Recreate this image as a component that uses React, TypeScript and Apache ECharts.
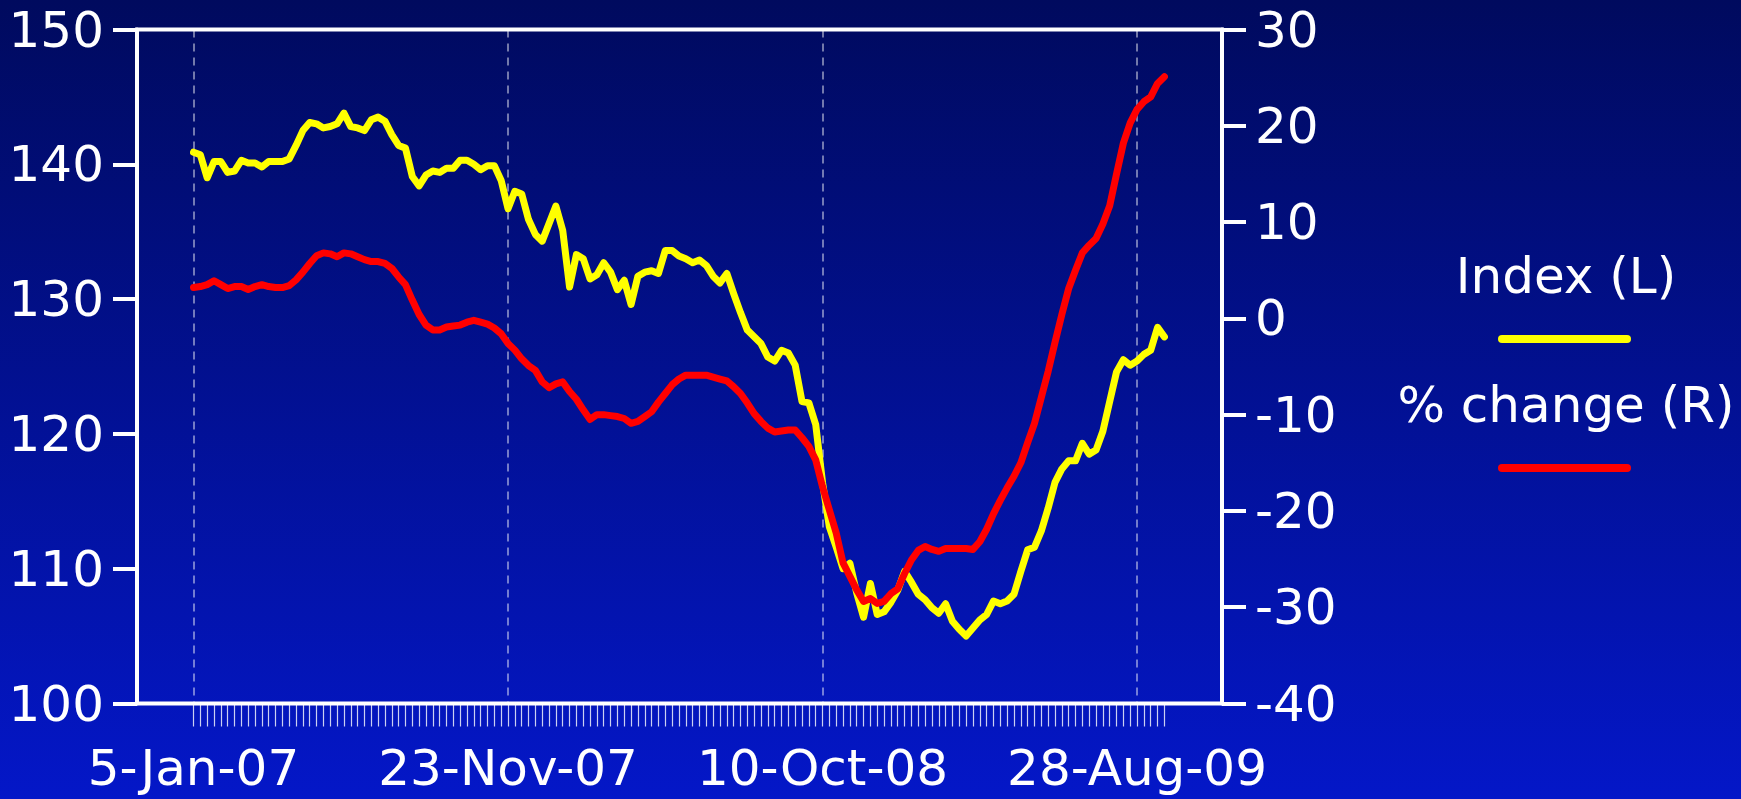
import React, { useEffect, useRef } from 'react';
import * as echarts from 'echarts';

// ---- data ----
const START_DATE = '2007-01-05';
const WEEK_COUNT = 143;
const MONTHS = ['Jan', 'Feb', 'Mar', 'Apr', 'May', 'Jun', 'Jul', 'Aug', 'Sep', 'Oct', 'Nov', 'Dec'];

const categories: string[] = (() => {
  const out: string[] = [];
  const start = new Date(START_DATE + 'T00:00:00Z').getTime();
  for (let i = 0; i < WEEK_COUNT; i++) {
    const d = new Date(start + i * 7 * 86400000);
    const yy = String(d.getUTCFullYear() % 100).padStart(2, '0');
    out.push(`${d.getUTCDate()}-${MONTHS[d.getUTCMonth()]}-${yy}`);
  }
  return out;
})();

const tickLabels = ['5-Jan-07', '23-Nov-07', '10-Oct-08', '28-Aug-09'];

const indexValues = [
  140.9, 140.7, 139.0, 140.2, 140.2, 139.4, 139.5, 140.3, 140.1, 140.1,
  139.8, 140.2, 140.2, 140.2, 140.4, 141.4, 142.5, 143.1, 143.0, 142.7,
  142.8, 143.0, 143.8, 142.8, 142.7, 142.5, 143.3, 143.5, 143.2, 142.2,
  141.4, 141.2, 139.1, 138.4, 139.2, 139.5, 139.4, 139.7, 139.7, 140.3,
  140.3, 140.0, 139.6, 139.9, 139.9, 138.8, 136.7, 138.0, 137.8, 135.9,
  134.8, 134.3, 135.6, 136.9, 135.1, 130.9, 133.3, 133.0, 131.5, 131.8,
  132.7, 132.0, 130.7, 131.4, 129.6, 131.7, 132.0, 132.1, 131.9, 133.6,
  133.6, 133.2, 133.0, 132.7, 132.9, 132.5, 131.7, 131.2, 131.9, 130.4,
  129.0, 127.7, 127.2, 126.7, 125.7, 125.4, 126.2, 126.0, 125.1, 122.4,
  122.3, 120.7, 116.4, 113.1, 111.6, 110.0, 110.4, 108.2, 106.4, 108.9,
  106.6, 106.8, 107.5, 108.4, 109.8, 109.0, 108.1, 107.7, 107.1, 106.7,
  107.4, 106.1, 105.5, 105.0, 105.6, 106.2, 106.6, 107.6, 107.4, 107.6,
  108.1, 109.8, 111.4, 111.6, 112.8, 114.5, 116.4, 117.4, 118.0, 118.0,
  119.3, 118.5, 118.8, 120.2, 122.4, 124.6, 125.5, 125.1, 125.4, 125.9,
  126.2, 127.9, 127.2,
];

const changeValues = [
  3.2, 3.3, 3.5, 3.9, 3.5, 3.1, 3.3, 3.3, 3.0, 3.3,
  3.5, 3.3, 3.2, 3.2, 3.4, 4.0, 4.8, 5.7, 6.5, 6.8,
  6.7, 6.4, 6.8, 6.7, 6.4, 6.1, 5.9, 5.9, 5.7, 5.2,
  4.3, 3.5, 1.9, 0.4, -0.7, -1.2, -1.2, -0.9, -0.8, -0.7,
  -0.4, -0.2, -0.4, -0.6, -1.0, -1.6, -2.6, -3.3, -4.2, -4.9,
  -5.4, -6.6, -7.2, -6.8, -6.6, -7.6, -8.4, -9.5, -10.5, -10.0,
  -10.0, -10.1, -10.2, -10.4, -10.9, -10.7, -10.2, -9.7, -8.7, -7.8,
  -6.9, -6.3, -5.9, -5.9, -5.9, -5.9, -6.1, -6.3, -6.5, -7.1,
  -7.8, -8.8, -9.9, -10.7, -11.4, -11.8, -11.7, -11.6, -11.6, -12.4,
  -13.3, -14.7, -17.5, -19.9, -22.3, -25.4, -26.8, -28.2, -29.4, -29.1,
  -29.6, -29.4, -28.6, -28.1, -26.5, -25.1, -24.1, -23.7, -24.0, -24.2,
  -23.9, -23.9, -23.9, -23.9, -24.0, -23.2, -21.9, -20.3, -18.9, -17.6,
  -16.4, -15.0, -12.9, -10.9, -8.2, -5.5, -2.5, 0.4, 3.1, 5.0,
  6.8, 7.6, 8.3, 9.8, 11.7, 15.0, 18.2, 20.3, 21.7, 22.5,
  23.0, 24.4, 25.1,
];

const leftScale = { min: 100, max: 150, interval: 10 };
const rightScale = { min: -40, max: 30, interval: 10 };
const seriesNames = ['Index (L)', '% change (R)'];
const seriesColors = ['#ffff00', '#ff0000'];

// ---- layout ----
const W = 1741;
const H = 799;
const FRAME = { left: 137, right: 1222, top: 29.5, bottom: 703.5 };
const FIRST_X = 193.5;
const LAST_X = 1164.4;
const FONT = 'DejaVu Sans';
const FONT_SIZE = 50;

export default function App() {
  const ref = useRef<HTMLDivElement>(null);

  useEffect(() => {
    document.body.style.margin = '0';
    const chart = echarts.init(ref.current!, undefined, { renderer: 'svg' });
    const isTick = (_i: number, v: string) => tickLabels.indexOf(v) >= 0;

    const yAxisCommon = {
      type: 'value',
      splitLine: { show: false },
      axisLine: { show: true, lineStyle: { color: '#ffffff', width: 4 } },
      axisTick: { show: true, inside: false, length: 24, lineStyle: { color: '#ffffff', width: 4 } },
      axisLabel: { color: '#ffffff', fontSize: FONT_SIZE, fontFamily: FONT, margin: 33 },
    };

    chart.setOption({
      animation: false,
      backgroundColor: 'transparent',
      grid: {
        left: FIRST_X,
        right: W - LAST_X,
        top: FRAME.top,
        bottom: H - FRAME.bottom,
        outerBoundsMode: 'none',
        containLabel: false,
      },
      xAxis: {
        type: 'category',
        data: categories,
        boundaryGap: false,
        axisLine: { show: false, onZero: false },
        axisTick: {
          show: true,
          interval: 0,
          inside: false,
          length: 23,
          lineStyle: { color: 'rgba(255,255,255,0.8)', width: 1.2 },
        },
        axisLabel: {
          interval: isTick,
          color: '#ffffff',
          fontSize: FONT_SIZE,
          fontFamily: FONT,
          margin: 39,
          showMinLabel: true,
          showMaxLabel: true,
        },
        splitLine: {
          show: true,
          interval: isTick,
          lineStyle: { color: 'rgba(255,255,255,0.6)', width: 1.5, type: [8, 6] },
        },
      },
      yAxis: [
        {
          ...yAxisCommon,
          position: 'left',
          offset: FIRST_X - FRAME.left,
          min: leftScale.min,
          max: leftScale.max,
          interval: leftScale.interval,
        },
        {
          ...yAxisCommon,
          position: 'right',
          offset: FRAME.right - LAST_X,
          min: rightScale.min,
          max: rightScale.max,
          interval: rightScale.interval,
        },
      ],
      graphic: [
        {
          type: 'rect',
          silent: true,
          shape: {
            x: FRAME.left,
            y: FRAME.top,
            width: FRAME.right - FRAME.left,
            height: FRAME.bottom - FRAME.top,
          },
          style: { fill: 'none', stroke: '#ffffff', lineWidth: 4 },
        },
        {
          type: 'text',
          x: 1566,
          y: 276,
          style: {
            text: seriesNames[0],
            fill: '#ffffff',
            font: `${FONT_SIZE}px "${FONT}"`,
            align: 'center',
            verticalAlign: 'middle',
          },
        },
        {
          type: 'line',
          shape: { x1: 1502, y1: 339, x2: 1627, y2: 339 },
          style: { stroke: seriesColors[0], lineWidth: 8, lineCap: 'round' },
        },
        {
          type: 'text',
          x: 1566,
          y: 405,
          style: {
            text: seriesNames[1],
            fill: '#ffffff',
            font: `${FONT_SIZE}px "${FONT}"`,
            align: 'center',
            verticalAlign: 'middle',
          },
        },
        {
          type: 'line',
          shape: { x1: 1502, y1: 468, x2: 1627, y2: 468 },
          style: { stroke: seriesColors[1], lineWidth: 8, lineCap: 'round' },
        },
      ],
      series: [
        {
          name: seriesNames[0],
          type: 'line',
          yAxisIndex: 0,
          data: indexValues,
          showSymbol: false,
          symbol: 'none',
          lineStyle: { color: seriesColors[0], width: 7, join: 'round', cap: 'round' },
          itemStyle: { color: seriesColors[0] },
        },
        {
          name: seriesNames[1],
          type: 'line',
          yAxisIndex: 1,
          data: changeValues,
          showSymbol: false,
          symbol: 'none',
          lineStyle: { color: seriesColors[1], width: 7, join: 'round', cap: 'round' },
          itemStyle: { color: seriesColors[1] },
        },
      ],
    });

    return () => chart.dispose();
  }, []);

  return (
    <div
      ref={ref}
      style={{
        position: 'fixed',
        left: 0,
        top: 0,
        width: W,
        height: H,
        background: 'linear-gradient(to bottom, #000a5e 0%, #0417c8 100%)',
      }}
    />
  );
}
